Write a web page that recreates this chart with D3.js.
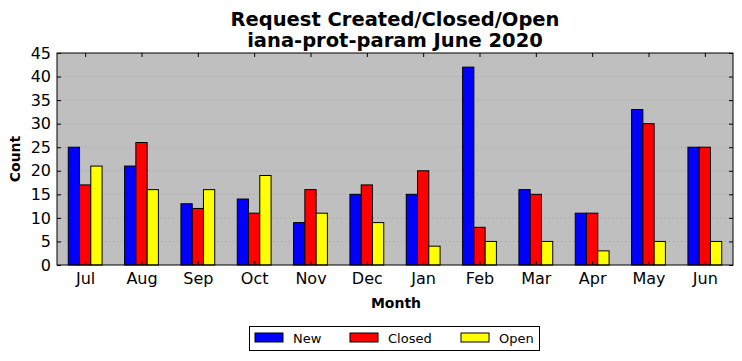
<!DOCTYPE html>
<html><head><meta charset="utf-8">
<script src="https://cdn.jsdelivr.net/npm/d3@7"></script>
<style>body{margin:0;background:#fff}svg{display:block}text{font-family:"DejaVu Sans",sans-serif}</style>
</head><body><svg id="c" width="742" height="361"></svg>
<script>
const months = ["Jul","Aug","Sep","Oct","Nov","Dec","Jan","Feb","Mar","Apr","May","Jun"];
const newVals = [25,21,13,14,9,15,15,42,16,11,33,25];
const closedVals = [17,26,12,11,16,17,20,8,15,11,30,25];
const openVals = [21,16,16,19,11,9,4,5,5,3,5,5];
const seriesNames = ["New","Closed","Open"];
const seriesColors = ["#0000ff","#ff0000","#ffff00"];
const yTicks = [0,5,10,15,20,25,30,35,40,45];

const svg = d3.select("#c");
const L=57,R=733,T=53,B=265;
const x = d3.scaleLinear().domain([-0.5, months.length-0.5]).range([L,R]);
const y = d3.scaleLinear().domain([0,45]).range([B,T]);
const bw = 0.2;

svg.append("rect").attr("x",L).attr("y",T).attr("width",R-L).attr("height",B-T).attr("fill","#bfbfbf");
// grid
svg.append("g").selectAll("line").data(yTicks.slice(1,-1)).join("line")
  .attr("x1",L).attr("x2",R).attr("y1",d=>y(d)).attr("y2",d=>y(d))
  .attr("stroke","#999").attr("stroke-width",0.8).attr("stroke-dasharray","1,3");

const series = [newVals, closedVals, openVals];
series.forEach((vals,si)=>{
  svg.append("g").selectAll("rect").data(vals).join("rect")
    .attr("x",(d,i)=>x(i-0.3+si*bw))
    .attr("width",x(bw)-x(0))
    .attr("y",d=>y(d)).attr("height",d=>y(0)-y(d))
    .attr("fill",seriesColors[si]).attr("stroke","#000").attr("stroke-width",1);
});

// frame
svg.append("rect").attr("x",L).attr("y",T).attr("width",R-L).attr("height",B-T).attr("fill","none").attr("stroke","#000").attr("stroke-width",1);

// axes
const xb = d3.axisBottom(x).tickValues(d3.range(months.length)).tickFormat(i=>months[i]).tickSizeInner(-4).tickSizeOuter(0).tickPadding(8);
const gx = svg.append("g").attr("transform",`translate(0,${B})`).call(xb);
const xt = d3.axisTop(x).tickValues(d3.range(months.length)).tickFormat("").tickSizeInner(-4).tickSizeOuter(0);
const gxt = svg.append("g").attr("transform",`translate(0,${T})`).call(xt);
const yl = d3.axisLeft(y).tickValues(yTicks).tickSizeInner(-4).tickSizeOuter(0).tickPadding(6);
const gy = svg.append("g").attr("transform",`translate(${L},0)`).call(yl);
const yr = d3.axisRight(y).tickValues(yTicks).tickFormat("").tickSizeInner(-4).tickSizeOuter(0);
const gyr = svg.append("g").attr("transform",`translate(${R},0)`).call(yr);
[gx,gxt,gy,gyr].forEach(g=>{g.select(".domain").remove();g.selectAll("text").attr("font-size",16).attr("fill","#000").attr("font-family","DejaVu Sans");});

// titles
svg.append("text").attr("x",395).attr("y",26).attr("text-anchor","middle").attr("font-size",19.5).attr("font-weight","bold").text("Request Created/Closed/Open");
svg.append("text").attr("x",395).attr("y",47).attr("text-anchor","middle").attr("font-size",19.5).attr("font-weight","bold").text("iana-prot-param June 2020");
svg.append("text").attr("x",396).attr("y",308).attr("text-anchor","middle").attr("font-size",14).attr("font-weight","bold").text("Month");
svg.append("text").attr("transform","translate(20,159) rotate(-90)").attr("text-anchor","middle").attr("font-size",14).attr("font-weight","bold").text("Count");

// legend
const lg = svg.append("g");
lg.append("rect").attr("x",249.5).attr("y",326.5).attr("width",290).attr("height",24).attr("fill","#fff").attr("stroke","#000");
const lx=[255,350,461];
seriesNames.forEach((n,i)=>{
  lg.append("rect").attr("x",lx[i]).attr("y",333).attr("width",28).attr("height",9).attr("fill",seriesColors[i]).attr("stroke","#000");
  lg.append("text").attr("x",lx[i]+38).attr("y",343).attr("font-size",13).text(n);
});
</script></body></html>
